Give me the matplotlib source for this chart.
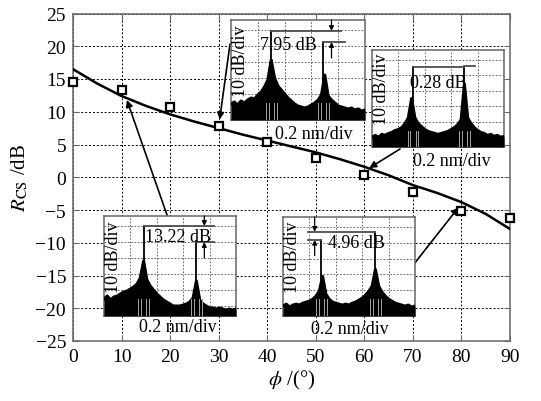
import numpy as np
import matplotlib
matplotlib.use('Agg')
from matplotlib import pyplot as plt

plt.rcParams['font.family'] = ['Liberation Serif', 'DejaVu Serif']
plt.rcParams['mathtext.fontset'] = 'stix'

# measured points
phi = [0, 10, 20, 30, 40, 50, 60, 70, 80, 90]
rcs = [14.5, 13.3, 10.8, 7.9, 5.4, 2.9, 0.4, -2.3, -5.2, -6.2]

# fitted curve
fit_phi = [0, 5, 10, 15, 20, 25, 30, 35, 40, 45, 50, 55, 60, 65, 70, 75, 80, 85, 90]
fit_rcs = [16.5, 14.3, 12.4, 10.9, 9.6, 8.5, 7.5, 6.5, 5.6, 4.7, 3.8, 2.75, 1.6, 0.3, -1.2, -2.4, -3.8, -5.6, -7.9]

xticks = [0, 10, 20, 30, 40, 50, 60, 70, 80, 90]
yticks = [25, 20, 15, 10, 5, 0, -5, -10, -15, -20, -25]

# inset spectra (normalised screen units, 41 samples across each inset)
spec_x = np.linspace(0, 1, 41)
env_a = [0.16, 0.18, 0.15, 0.19, 0.17, 0.2, 0.22, 0.21, 0.25, 0.28, 0.33, 0.4, 0.6,
         0.42, 0.34, 0.3, 0.26, 0.22, 0.19, 0.16, 0.14, 0.13, 0.12, 0.13, 0.15, 0.17,
         0.2, 0.25, 0.45, 0.24, 0.2, 0.17, 0.14, 0.13, 0.12, 0.11, 0.12, 0.1, 0.11, 0.09, 0.1]
env_b = [0.1, 0.12, 0.1, 0.13, 0.12, 0.14, 0.15, 0.17, 0.18, 0.2, 0.24, 0.3, 0.5,
         0.3, 0.24, 0.21, 0.18, 0.16, 0.15, 0.14, 0.13, 0.14, 0.15, 0.16, 0.18, 0.2,
         0.23, 0.28, 0.65, 0.3, 0.24, 0.2, 0.17, 0.15, 0.14, 0.12, 0.13, 0.11, 0.12, 0.1, 0.11]
env_c = [0.17, 0.2, 0.16, 0.19, 0.2, 0.22, 0.24, 0.25, 0.27, 0.29, 0.32, 0.38, 0.55,
         0.36, 0.3, 0.26, 0.22, 0.19, 0.16, 0.14, 0.12, 0.1, 0.1, 0.1, 0.11, 0.12,
         0.14, 0.18, 0.35, 0.16, 0.12, 0.1, 0.08, 0.08, 0.07, 0.08, 0.07, 0.06, 0.07, 0.06, 0.07]
env_d = [0.1, 0.12, 0.09, 0.11, 0.12, 0.11, 0.13, 0.14, 0.15, 0.17, 0.2, 0.25, 0.4,
         0.22, 0.17, 0.14, 0.13, 0.12, 0.11, 0.12, 0.11, 0.13, 0.14, 0.16, 0.18, 0.21,
         0.25, 0.3, 0.47, 0.3, 0.24, 0.2, 0.17, 0.15, 0.13, 0.12, 0.11, 0.1, 0.11, 0.09, 0.1]

peaks_a = [(0.30, 0.89), (0.69, 0.78)]
peaks_b = [(0.31, 0.82), (0.70, 0.82)]
peaks_c = [(0.30, 0.90), (0.70, 0.75)]
peaks_d = [(0.29, 0.77), (0.70, 0.85)]

W, H = 541, 402
fig = plt.figure(figsize=(W / 100, H / 100), dpi=100)
ax = fig.add_axes([73 / W, 1 - 342 / H, (510 - 73) / W, (342 - 14.5) / H])

ax.plot(fit_phi, fit_rcs, color='black', lw=1.8, zorder=3)
ax.plot(phi, rcs, ls='none', marker='s', ms=6.3, mfc='white', mec='black', mew=1.6,
        zorder=4, clip_on=False)
ax.set_xlim(0, 90)
ax.set_ylim(-25, 25)
ax.set_xticks(xticks)
ax.set_yticks(yticks)
ax.grid(True, ls=(0, (2, 2)), color='black', lw=0.7)
ax.tick_params(direction='in', top=True, right=True, labelsize=14, pad=5, length=4,
               color='0.4')
for s in ax.spines.values():
    s.set_color('0.4')
    s.set_linewidth(1.1)
ax.set_xlabel(r'$\phi$ /(°)', fontsize=15, labelpad=2)
ax.set_ylabel(r'$R_{\rm CS}$ /dB', fontsize=15, labelpad=4)


def add_inset(box, env, peaks, label, txt_xy, top_seg, low_seg, arr_x, nm_x, nm_y):
    x0, y0, x1, y1 = box
    ia = fig.add_axes([x0 / W, 1 - y1 / H, (x1 - x0) / W, (y1 - y0) / H])
    ia.set_xlim(0, 1)
    ia.set_ylim(0, 1)
    ia.set_xticks([0.2, 0.4, 0.6, 0.8])
    ia.set_yticks([0.1, 0.26, 0.42, 0.58, 0.74, 0.9])
    ia.tick_params(length=0, labelleft=False, labelbottom=False)
    ia.grid(True, ls=(0, (2, 2)), color='0.3', lw=0.6)
    for s in ia.spines.values():
        s.set_color('0.4')
        s.set_linewidth(1.1)
    ia.fill_between(spec_x, 0, env, color='black', lw=0, zorder=3)
    ia.plot(spec_x, env, color='black', lw=2.2, zorder=3)
    for px, ph in peaks:
        ia.plot([px, px], [0, ph], color='black', lw=1.3, zorder=4)
        for d in (-0.04, -0.02, 0.02, 0.04):
            ia.plot([px + d, px + d], [0, 0.17], color='0.65', lw=0.7, zorder=4)
    ia.plot(top_seg[0], top_seg[1], color='0.3', lw=1.3, zorder=5)
    ia.plot(low_seg[0], low_seg[1], color='0.3', lw=1.3, zorder=5)
    ia.annotate('', xy=(arr_x, top_seg[1][0]), xytext=(arr_x, 1.0),
                arrowprops=dict(arrowstyle='-|>', color='black', lw=0.9,
                                mutation_scale=7, shrinkA=0, shrinkB=0))
    ia.annotate('', xy=(arr_x, low_seg[1][0]), xytext=(arr_x, low_seg[1][0] - 0.16),
                arrowprops=dict(arrowstyle='-|>', color='black', lw=0.9,
                                mutation_scale=7, shrinkA=0, shrinkB=0))
    ia.text(txt_xy[0], txt_xy[1], label, fontsize=13, ha='center', va='center', zorder=6)
    ia.text(0.07, 0.6, '10 dB/div', fontsize=13, rotation=90, ha='center', va='center',
            zorder=6)
    fig.text(nm_x / W, 1 - nm_y / H, '0.2 nm/div', fontsize=13, ha='center', va='center')
    return ia


add_inset((231, 21, 365, 121), env_a, peaks_a, '7.95 dB', (0.43, 0.76),
          ([0.30, 0.82], [0.89, 0.89]), ([0.69, 0.85], [0.78, 0.78]), 0.75, 314, 135)
add_inset((372, 51, 504, 148), env_b, peaks_b, '0.28 dB', (0.5, 0.67),
          ([0.31, 0.70], [0.82, 0.82]), ([0.70, 0.78], [0.83, 0.83]), -1, 452, 162)
add_inset((104, 217, 236, 317), env_c, peaks_c, '13.22 dB', (0.56, 0.79),
          ([0.30, 0.83], [0.90, 0.90]), ([0.70, 0.83], [0.74, 0.74]), 0.76, 178, 328)
add_inset((283, 218, 415, 317), env_d, peaks_d, '4.96 dB', (0.56, 0.74),
          ([0.19, 0.70], [0.85, 0.85]), ([0.19, 0.29], [0.77, 0.77]), 0.24, 350, 330)

# pointer arrows from the insets to the curve
pointers = [((230, 45), (30.2, 8.8)), ((400, 150), (61, 1.4)),
            ((167, 216), (11.1, 11.8)), ((414, 265), (79.4, -4.6))]
for (sx, sy), tip in pointers:
    ax.annotate('', xy=tip, xycoords='data', xytext=(sx / W, 1 - sy / H),
                textcoords='figure fraction',
                arrowprops=dict(arrowstyle='-|>', color='black', lw=1.2,
                                mutation_scale=10, shrinkA=0, shrinkB=0), zorder=6)

fig.savefig('out.png', dpi=100)
